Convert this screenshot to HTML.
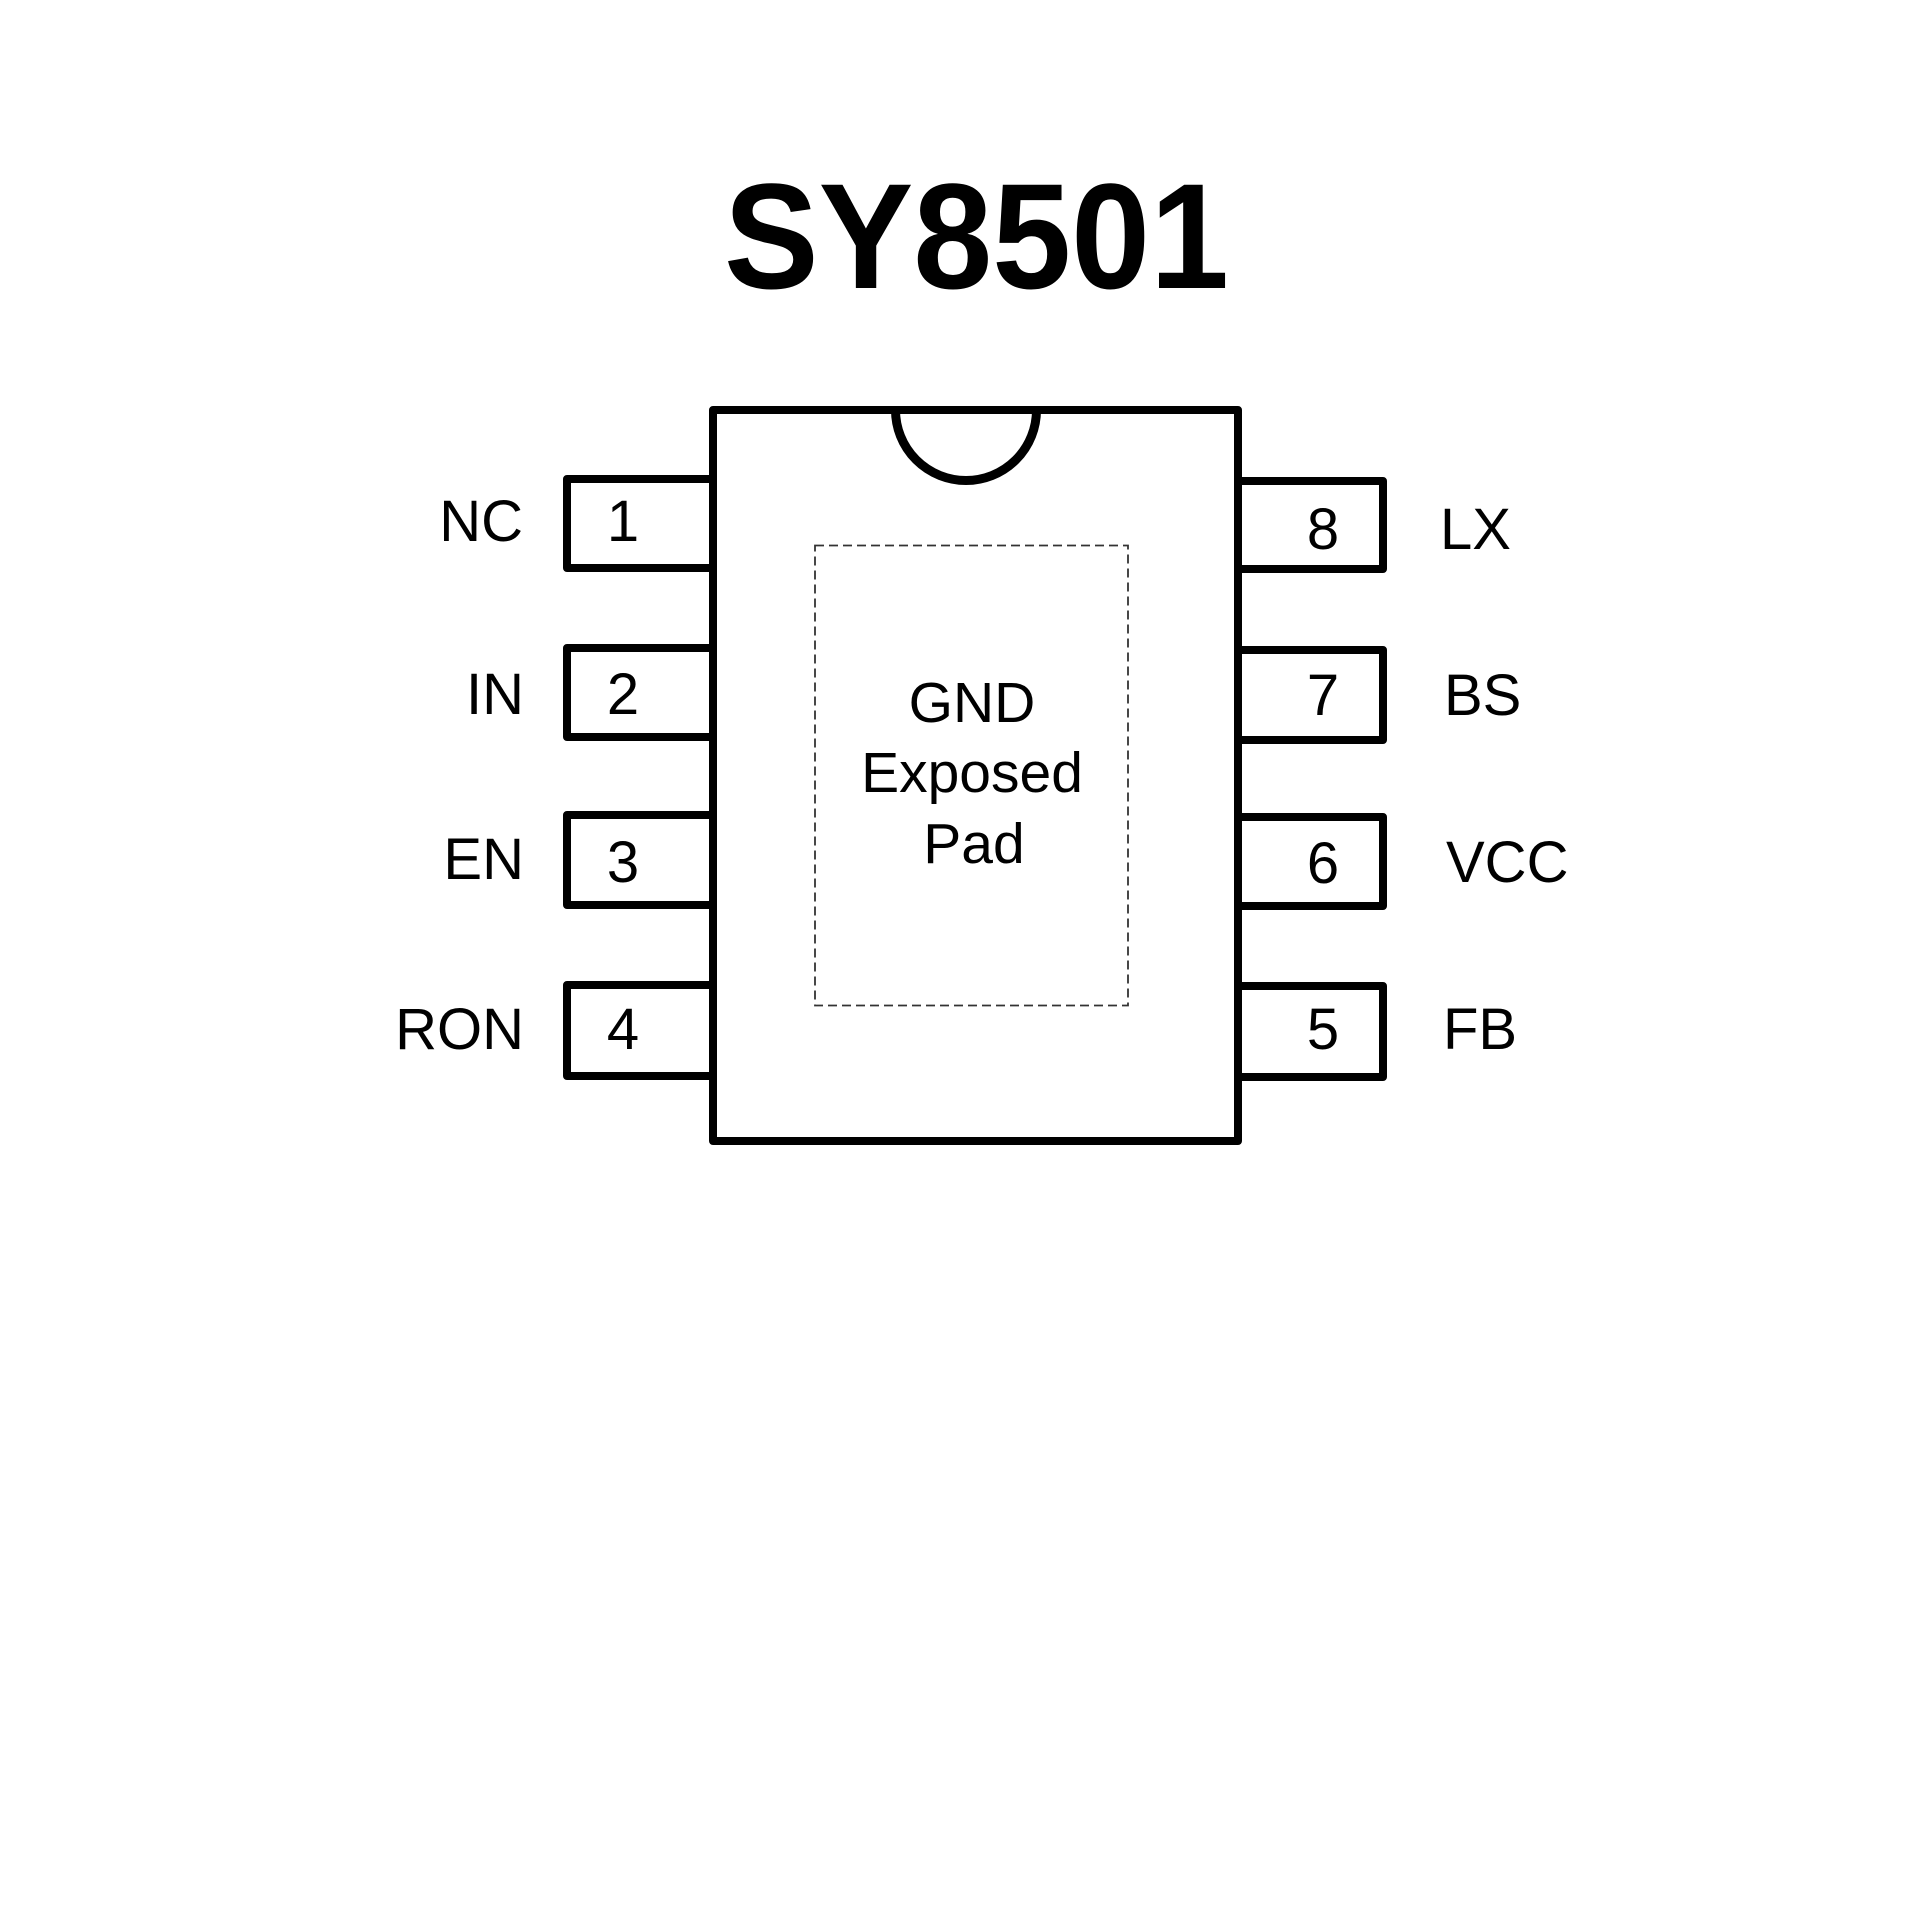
<!DOCTYPE html>
<html>
<head>
<meta charset="utf-8">
<style>
  html, body { margin:0; padding:0; background:#fff; }
  body { width:1920px; height:1920px; overflow:hidden; }
  svg { display:block; }
  .lbl { font-family:"Liberation Sans", Arial, sans-serif; font-size:58px; fill:#000; }
  .mid { font-family:"Liberation Sans", Arial, sans-serif; font-size:57px; fill:#000; }
  .title { font-family:"Liberation Sans", Arial, sans-serif; font-size:150px; font-weight:bold; fill:#000; }
</style>
</head>
<body>
<svg width="1920" height="1920" viewBox="0 0 1920 1920" xmlns="http://www.w3.org/2000/svg">
  <rect x="0" y="0" width="1920" height="1920" fill="#fff"/>

  <!-- Title -->
  <text class="title" x="724" y="288" textLength="505" lengthAdjust="spacingAndGlyphs">SY8501</text>

  <g fill="none" stroke="#000" stroke-width="8" stroke-linejoin="round" stroke-linecap="round">
    <!-- Body -->
    <rect x="713" y="410" width="525" height="731"/>

    <!-- Left pins -->
    <path d="M 713 479 L 567 479 L 567 568 L 713 568"/>
    <path d="M 713 648 L 567 648 L 567 737 L 713 737"/>
    <path d="M 713 815 L 567 815 L 567 905 L 713 905"/>
    <path d="M 713 985 L 567 985 L 567 1076 L 713 1076"/>

    <!-- Right pins -->
    <path d="M 1238 481 L 1383 481 L 1383 569 L 1238 569"/>
    <path d="M 1238 650 L 1383 650 L 1383 740 L 1238 740"/>
    <path d="M 1238 817 L 1383 817 L 1383 906 L 1238 906"/>
    <path d="M 1238 986 L 1383 986 L 1383 1077 L 1238 1077"/>
  </g>
  <!-- Notch -->
  <path d="M 895.5 410 A 70.5 70.5 0 0 0 1036.5 410" fill="none" stroke="#000" stroke-width="9"/>

  <!-- Exposed pad dashed rect -->
  <rect x="815" y="545.5" width="313" height="460" fill="none" stroke="#333" stroke-width="1.8" stroke-dasharray="9 5"/>

  <!-- Left labels -->
  <text class="lbl" x="523" y="541" text-anchor="end">NC</text>
  <text class="lbl" x="524" y="714" text-anchor="end">IN</text>
  <text class="lbl" x="524" y="879" text-anchor="end">EN</text>
  <text class="lbl" x="524" y="1049" text-anchor="end">RON</text>

  <!-- Left numbers -->
  <text class="lbl" x="623" y="541" text-anchor="middle">1</text>
  <text class="lbl" x="623" y="714" text-anchor="middle">2</text>
  <text class="lbl" x="623" y="882" text-anchor="middle">3</text>
  <text class="lbl" x="623" y="1049" text-anchor="middle">4</text>

  <!-- Right numbers -->
  <text class="lbl" x="1323" y="549" text-anchor="middle">8</text>
  <text class="lbl" x="1323" y="715" text-anchor="middle">7</text>
  <text class="lbl" x="1323" y="883" text-anchor="middle">6</text>
  <text class="lbl" x="1323" y="1049" text-anchor="middle">5</text>

  <!-- Right labels -->
  <text class="lbl" x="1440" y="549">LX</text>
  <text class="lbl" x="1444" y="715">BS</text>
  <text class="lbl" x="1446" y="882">VCC</text>
  <text class="lbl" x="1443" y="1049">FB</text>

  <!-- Center text -->
  <text class="mid" x="972" y="722" text-anchor="middle">GND</text>
  <text class="mid" x="972" y="792" text-anchor="middle">Exposed</text>
  <text class="mid" x="974" y="863" text-anchor="middle">Pad</text>
</svg>
</body>
</html>
